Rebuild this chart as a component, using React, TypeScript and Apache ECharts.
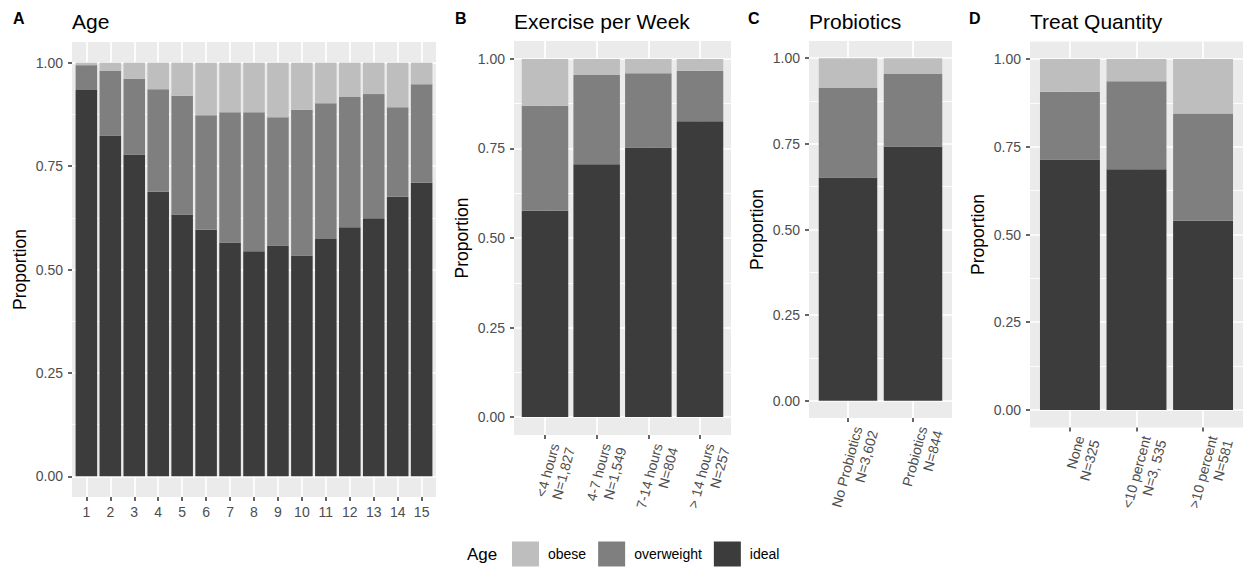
import React, { useEffect, useRef } from 'react';
import * as echarts from 'echarts';

// ---------- data ----------
const ageCategories = ['1', '2', '3', '4', '5', '6', '7', '8', '9', '10', '11', '12', '13', '14', '15'];
const ageIdeal = [0.934, 0.824, 0.778, 0.688, 0.633, 0.596, 0.565, 0.544, 0.558, 0.534, 0.574, 0.602, 0.624, 0.676, 0.710];
const ageOverweight = [0.060, 0.156, 0.183, 0.248, 0.287, 0.277, 0.315, 0.336, 0.310, 0.352, 0.328, 0.315, 0.300, 0.216, 0.238];
const ageObese = [0.006, 0.020, 0.039, 0.064, 0.080, 0.127, 0.120, 0.120, 0.132, 0.114, 0.098, 0.083, 0.076, 0.108, 0.052];

const exerciseCategories = ['<4 hours\nN=1,827', '4-7 hours\nN=1,549', '7-14 hours\nN=804', '> 14 hours\nN=257'];
const exerciseIdeal = [0.576, 0.706, 0.753, 0.826];
const exerciseOverweight = [0.293, 0.249, 0.207, 0.141];
const exerciseObese = [0.131, 0.045, 0.040, 0.033];

const probioticsCategories = ['No Probiotics\nN=3,602', 'Probiotics\nN=844'];
const probioticsIdeal = [0.652, 0.742];
const probioticsOverweight = [0.261, 0.212];
const probioticsObese = [0.087, 0.046];

const treatCategories = ['None\nN=325', '<10 percent\nN=3, 535', '>10 percent\nN=581'];
const treatIdeal = [0.714, 0.686, 0.539];
const treatOverweight = [0.193, 0.251, 0.306];
const treatObese = [0.093, 0.063, 0.155];

const yTicks = [0, 0.25, 0.5, 0.75, 1];
const yMinorTicks = [0.125, 0.375, 0.625, 0.875];
const legendNames = ['obese', 'overweight', 'ideal'];
const legendTitle = 'Age';

// ---------- styles / layout ----------
const FONT = 'Liberation Sans, Arial, Helvetica, sans-serif';
const COLORS: Record<string, string> = { obese: '#BEBEBE', overweight: '#7F7F7F', ideal: '#3C3C3C' };

const panels = [
  { letter: 'A', letterX: 13, title: 'Age', cats: ageCategories, ideal: ageIdeal, overweight: ageOverweight, obese: ageObese,
    box: { left: 72, top: 42, width: 364, height: 455 }, rotate: 0 },
  { letter: 'B', letterX: 455, title: 'Exercise per Week', cats: exerciseCategories, ideal: exerciseIdeal, overweight: exerciseOverweight, obese: exerciseObese,
    box: { left: 514, top: 41, width: 217, height: 394 }, rotate: 75 },
  { letter: 'C', letterX: 748, title: 'Probiotics', cats: probioticsCategories, ideal: probioticsIdeal, overweight: probioticsOverweight, obese: probioticsObese,
    box: { left: 809, top: 41, width: 143, height: 377 }, rotate: 75 },
  { letter: 'D', letterX: 969, title: 'Treat Quantity', cats: treatCategories, ideal: treatIdeal, overweight: treatOverweight, obese: treatObese,
    box: { left: 1030, top: 41.5, width: 213, height: 386 }, rotate: 75 },
];

function buildOption() {
  const grid: any[] = [];
  const xAxis: any[] = [];
  const yAxis: any[] = [];
  const series: any[] = [];
  const graphic: any[] = [];

  panels.forEach((p, i) => {
    const n = p.cats.length;
    const ticks = p.cats.map((_, k) => k + 1);
    const unit = p.box.width / (n + 0.2);

    // grid 2i: full panel (background, visible axes); grid 2i+1: bar area (ggplot 0.6-unit expansion)
    grid.push({
      left: p.box.left, top: p.box.top, width: p.box.width, height: p.box.height,
      show: true, backgroundColor: '#EBEBEB', borderWidth: 0,
      containLabel: false, outerBoundsMode: 'none',
    });
    grid.push({
      left: p.box.left + 0.1 * unit, top: p.box.top, width: p.box.width - 0.2 * unit, height: p.box.height,
      show: false, containLabel: false, outerBoundsMode: 'none',
    });

    const rotated = p.rotate !== 0;
    // xAxis 2i: visible value axis for ticks/labels/grid
    xAxis.push({
      type: 'value', gridIndex: 2 * i, min: 0.4, max: n + 0.6,
      axisLine: { show: false, onZero: false },
      axisTick: { show: true, customValues: ticks, length: 4, lineStyle: { color: '#333333', width: 1.5 } },
      axisLabel: {
        customValues: ticks,
        formatter: (v: number) => p.cats[Math.round(v) - 1] ?? '',
        color: '#4D4D4D', fontSize: 14, fontFamily: FONT, margin: rotated ? 6 : 7,
        rotate: p.rotate,
        lineHeight: 16,
        ...(rotated ? { align: 'right', verticalAlign: 'top', padding: [2, 0, 0, 0] } : {}),
      },
      splitLine: { show: true, lineStyle: { color: '#FFFFFF', width: 1.7 } },
    });
    // xAxis 2i+1: hidden category axis for the bars
    xAxis.push({
      type: 'category', gridIndex: 2 * i + 1, data: p.cats, show: false,
      axisLine: { onZero: false },
    });

    // yAxis 3i: main, 3i+1: minor grid, 3i+2: hidden for bars
    yAxis.push({
      type: 'value', gridIndex: 2 * i, min: -0.05, max: 1.05,
      axisLine: { show: false, onZero: false },
      axisTick: { show: true, customValues: yTicks, length: 4, lineStyle: { color: '#333333', width: 1.5 } },
      axisLabel: {
        customValues: yTicks,
        formatter: (v: number) => v.toFixed(2),
        color: '#4D4D4D', fontSize: 14, fontFamily: FONT, margin: 9,
      },
      splitLine: { show: true, lineStyle: { color: '#FFFFFF', width: 1.7 } },
      name: 'Proportion', nameLocation: 'middle', nameGap: 43, nameRotate: 90,
      nameTextStyle: { fontSize: 17.5, color: '#000000', fontFamily: FONT },
    });
    yAxis.push({
      type: 'value', gridIndex: 2 * i, min: -0.05, max: 1.05,
      axisLine: { show: false, onZero: false },
      axisTick: { show: false, customValues: yMinorTicks },
      axisLabel: { show: false, customValues: yMinorTicks },
      splitLine: { show: true, lineStyle: { color: '#FFFFFF', width: 0.85 } },
    });
    yAxis.push({
      type: 'value', gridIndex: 2 * i + 1, min: -0.05, max: 1.05, show: false,
      splitLine: { show: false },
    });

    const layers: [string, number[]][] = [
      ['ideal', p.ideal],
      ['overweight', p.overweight],
      ['obese', p.obese],
    ];
    layers.forEach(([name, vals]) => {
      series.push({
        type: 'bar', name, stack: 'panel' + i,
        xAxisIndex: 2 * i + 1, yAxisIndex: 3 * i + 2,
        barCategoryGap: '10%',
        data: vals,
        itemStyle: { color: COLORS[name] },
        emphasis: { disabled: true },
        silent: true,
      });
    });

    graphic.push({
      type: 'text', x: p.letterX, y: 18.8,
      style: { text: p.letter, font: `bold 16px ${FONT}`, fill: '#000000', verticalAlign: 'middle', align: 'left' },
    });
    graphic.push({
      type: 'text', x: p.box.left, y: 21,
      style: { text: p.title, font: `21px ${FONT}`, fill: '#000000', verticalAlign: 'middle', align: 'left' },
    });
  });

  graphic.push({
    type: 'text', x: 467, y: 554,
    style: { text: legendTitle, font: `17px ${FONT}`, fill: '#000000', verticalAlign: 'middle', align: 'left' },
  });

  return {
    animation: false,
    backgroundColor: '#FFFFFF',
    textStyle: { fontFamily: FONT },
    grid, xAxis, yAxis, series, graphic,
    legend: {
      data: legendNames, left: 512, top: 541.5, padding: 0,
      itemWidth: 27, itemHeight: 25, itemGap: 12, icon: 'rect',
      selectedMode: false,
      textStyle: { fontSize: 14, color: '#000000', fontFamily: FONT, padding: [0, 0, 0, 4] },
    },
  };
}

export default function App() {
  const ref = useRef<HTMLDivElement>(null);
  useEffect(() => {
    if (!ref.current) return;
    const chart = echarts.init(ref.current, undefined, { renderer: 'svg' });
    chart.setOption(buildOption() as any);
    return () => chart.dispose();
  }, []);
  return <div ref={ref} style={{ position: 'fixed', left: 0, top: 0, width: 1244, height: 568 }} />;
}
